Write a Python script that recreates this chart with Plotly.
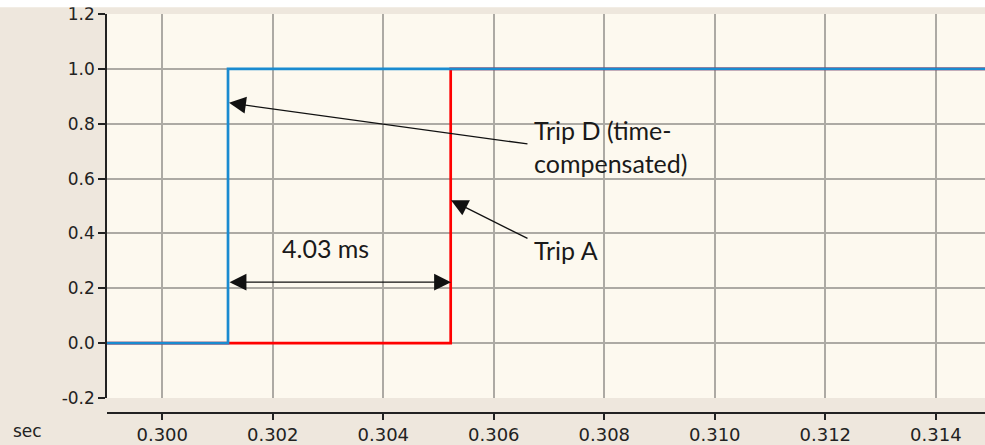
import plotly.graph_objects as go

# Data
time_trip_d = [0.299, 0.30119, 0.315]
trip_d = [0, 1, 1]
time_trip_a = [0.299, 0.30522, 0.315]
trip_a = [0, 1, 1]

x_ticks = [0.300, 0.302, 0.304, 0.306, 0.308, 0.310, 0.312, 0.314]
x_tick_labels = ["0.300", "0.302", "0.304", "0.306", "0.308", "0.310", "0.312", "0.314"]
y_ticks = [-0.2, 0.0, 0.2, 0.4, 0.6, 0.8, 1.0, 1.2]
y_tick_labels = ["-0.2", "0.0", "0.2", "0.4", "0.6", "0.8", "1.0", "1.2"]

x_range = [0.299, 0.31489]
y_range = [-0.2, 1.2]

fig = go.Figure()
fig.add_trace(go.Scatter(x=time_trip_a, y=trip_a, mode="lines", line_shape="hv",
                         line=dict(color="#FF0000", width=2.7), name="Trip A"))
fig.add_trace(go.Scatter(x=time_trip_d, y=trip_d, mode="lines", line_shape="hv",
                         line=dict(color="#1A8BD0", width=2.7), name="Trip D"))

ann_font = dict(family="Lato", size=25, color="#1a1a1a")
arrow_kw = dict(xref="x", yref="y", axref="x", ayref="y", showarrow=True,
                arrowhead=2, arrowsize=2.6, arrowwidth=1.3, arrowcolor="#111111",
                text="", standoff=0, startstandoff=0)

annotations = [
    dict(x=0.301208, y=0.876, ax=0.306637, ay=0.7255, **arrow_kw),
    dict(x=0.305226, y=0.5213, ax=0.306637, ay=0.379, **arrow_kw),
    dict(x=0.305226, y=0.2224, ax=0.30119, ay=0.2224, arrowside="end+start", **arrow_kw),
    dict(x=0.306692, y=0.716, xref="x", yref="y", text="Trip D (time-<br>compensated)",
         showarrow=False, xanchor="left", yanchor="middle", align="left", font=ann_font),
    dict(x=0.306692, y=0.339, xref="x", yref="y", text="Trip A",
         showarrow=False, xanchor="left", yanchor="middle", align="left", font=ann_font),
    dict(x=0.302963, y=0.346, xref="x", yref="y", text="4.03 ms",
         showarrow=False, xanchor="center", yanchor="middle", font=ann_font),
    dict(x=-0.109, y=-0.045, xref="paper", yref="paper", text="sec", showarrow=False,
         xanchor="left", yanchor="middle", font=dict(family="DejaVu Sans", size=17, color="#222")),
]

fig.update_layout(
    width=985, height=445,
    margin=dict(l=107, r=0, t=14, b=32),
    paper_bgcolor="#EEE7DD",
    plot_bgcolor="#FDF9EF",
    showlegend=False,
    annotations=annotations,
    shapes=[dict(type="rect", xref="paper", yref="paper", x0=-0.13, x1=1.01,
                 y0=1.017, y1=1.05, fillcolor="white", line=dict(width=0), layer="above")],
    xaxis=dict(range=x_range, tickvals=x_ticks, ticktext=x_tick_labels,
               showgrid=True, gridcolor="#ADAAA4", gridwidth=1.5, zeroline=False,
               showline=True, linecolor="#222", linewidth=1.5,
               ticks="outside", ticklen=6, tickwidth=1.5, tickcolor="#222",
               anchor="free", position=0,
               tickfont=dict(family="DejaVu Sans", size=18, color="#222")),
    yaxis=dict(range=y_range, tickvals=y_ticks, ticktext=y_tick_labels,
               domain=[0.0376, 1],
               showgrid=True, gridcolor="#ADAAA4", gridwidth=1.5, zeroline=False,
               showline=True, linecolor="#222", linewidth=1.5,
               ticks="outside", ticklen=7, tickwidth=1.5, tickcolor="#222",
               tickfont=dict(family="DejaVu Sans", size=17, color="#222")),
)

fig.write_html("out.html")
